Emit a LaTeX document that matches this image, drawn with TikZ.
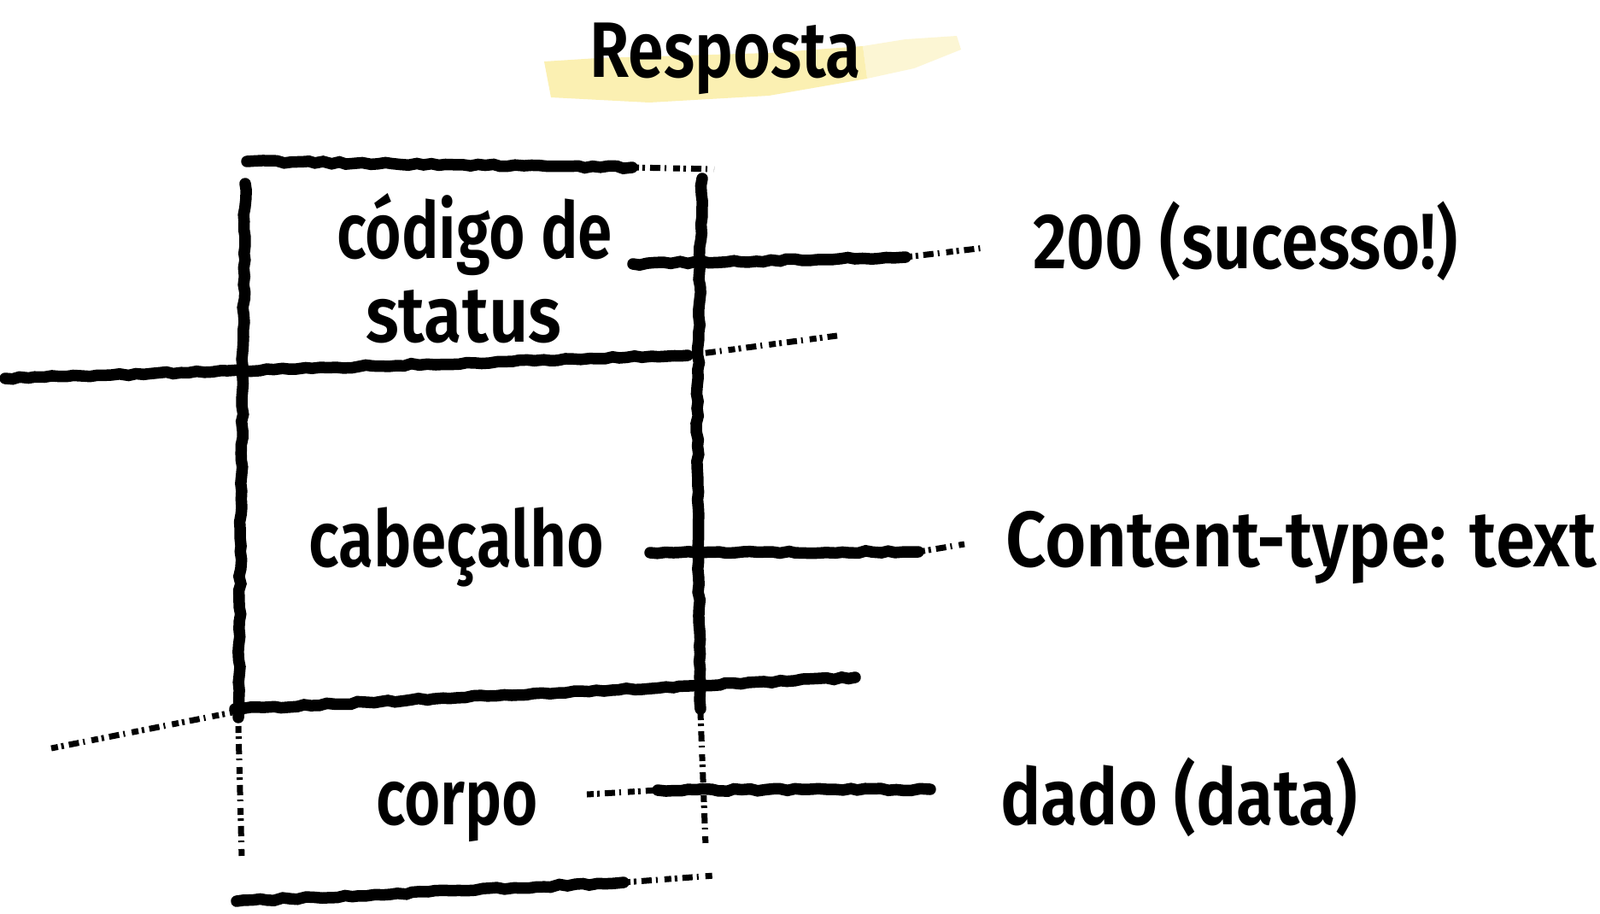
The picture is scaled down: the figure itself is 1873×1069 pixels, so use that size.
\documentclass[tikz,border=0pt]{standalone}
\usepackage{fontspec}
\usepackage{graphicx}
\setmainfont{Fira Sans}[UprightFont={* SemiBold}]
\usetikzlibrary{decorations.pathmorphing}
\definecolor{hl}{RGB}{251,240,178}
\newcommand{\fw}[2]{\resizebox{#1}{\height}{#2}}
\tikzset{
  lbl/.style={inner sep=0pt, anchor=base west, font=\fontsize{92}{110}\selectfont},
  stroke/.style={line width=13.5pt, line cap=round, draw=black,
    decorate, decoration={random steps, segment length=9pt, amplitude=1.4pt}},
  spray/.style={line width=7pt, draw=black, dash pattern=on 8pt off 4pt on 3pt off 6pt on 12pt off 5pt on 2pt off 8pt},
}
\begin{document}
\begin{tikzpicture}[x=1pt,y=-1pt]
\useasboundingbox (0,0) rectangle (1873,1069);
\fill[white] (0,0) rectangle (1873,1069);
% highlight
\fill[hl] (637,72) -- (700,68) -- (900,62) -- (1010,54) -- (1015,92) -- (900,112) -- (760,120) -- (645,114) -- cycle;
\fill[hl, fill opacity=0.55] (1010,54) -- (1060,46) -- (1120,42) -- (1125,58) -- (1070,80) -- (1015,92) -- cycle;
\node[lbl] (title) at (690,90) {\fw{317pt}{Resposta}};
% box outline
\draw[stroke] (289,189) -- (740,196);
\draw[spray] (740,196) -- (836,198);
\draw[stroke] (287,215) -- (279,840);
\draw[spray] (279,850) -- (283,1005);
\draw[stroke] (822,209) -- (816,478) -- (820,830);
\draw[spray] (820,835) -- (826,990);
% dividers
\draw[stroke] (6,443) -- (805,416);
\draw[spray] (805,416) -- (980,393);
\draw[spray] (60,876) -- (272,834);
\draw[stroke] (275,830) -- (1001,793);
\draw[stroke] (277,1055) -- (730,1033);
\draw[spray] (730,1033) -- (836,1025);
% labels
\node[lbl] (status1) at (394,302) {\fw{323pt}{código de}};
\node[lbl] (status2) at (428,400) {\fw{229pt}{status}};
\node[lbl] (header) at (361,663) {\fw{346pt}{cabeçalho}};
\node[lbl] (body) at (440,965) {\fw{190pt}{corpo}};
\node[lbl] (v1) at (1209,314) {\fw{497pt}{200 (sucesso!)}};
\node[lbl] (v2) at (1177,663) {\fw{692pt}{Content-type: text}};
\node[lbl] (v3) at (1171,965) {\fw{418pt}{dado (data)}};
% connectors
\coordinate (c1a) at (741,309);
\coordinate (c1m) at (1060,301);
\coordinate (c1b) at (1153,290);
\coordinate (c2a) at (761,647);
\coordinate (c2m) at (1075,646);
\coordinate (c2b) at (1129,637);
\coordinate (c3a) at (687,930);
\coordinate (c3m) at (770,925);
\coordinate (c3b) at (1089,924);
\draw[stroke] (c1a) -- (c1m);
\draw[spray] (c1m) -- (c1b);
\draw[stroke] (c2a) -- (c2m);
\draw[spray] (c2m) -- (c2b);
\draw[spray] (c3a) -- (c3m);
\draw[stroke] (c3m) -- (c3b);
\end{tikzpicture}
\end{document}
